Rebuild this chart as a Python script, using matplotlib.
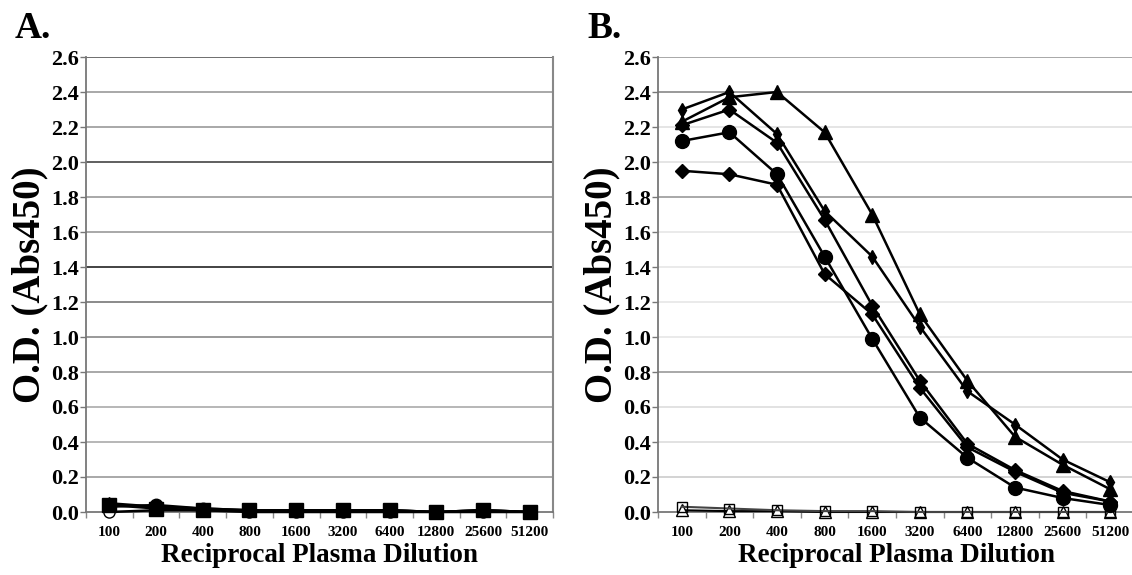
import matplotlib
matplotlib.use("Agg")
import matplotlib.pyplot as plt
import numpy as np

plt.rcParams['font.family'] = ['Liberation Serif', 'DejaVu Serif']
plt.rcParams['font.weight'] = 'bold'

dilutions = ["100", "200", "400", "800", "1600", "3200", "6400", "12800", "25600", "51200"]
yticks = [0.0, 0.2, 0.4, 0.6, 0.8, 1.0, 1.2, 1.4, 1.6, 1.8, 2.0, 2.2, 2.4, 2.6]

# Panel A (all near zero)
a_square = [0.04, 0.02, 0.01, 0.01, 0.01, 0.01, 0.01, 0.00, 0.01, 0.00]
a_circle = [0.03, 0.04, 0.02, 0.01, 0.01, 0.01, 0.01, 0.00, 0.01, 0.00]
a_triangle = [0.05, 0.03, 0.02, 0.01, 0.01, 0.01, 0.01, 0.00, 0.01, 0.00]
a_open_circle = [0.00, 0.01, 0.01, 0.00, 0.00, 0.00, 0.00, 0.00, 0.00, 0.00]

# Panel B
b_triangle = [2.23, 2.37, 2.40, 2.17, 1.70, 1.13, 0.75, 0.43, 0.27, 0.13]
b_small_diamond = [2.30, 2.40, 2.16, 1.72, 1.46, 1.06, 0.69, 0.50, 0.30, 0.17]
b_diamond1 = [2.21, 2.30, 2.11, 1.67, 1.18, 0.75, 0.39, 0.24, 0.12, 0.06]
b_circle = [2.12, 2.17, 1.93, 1.46, 0.99, 0.54, 0.31, 0.14, 0.08, 0.04]
b_diamond2 = [1.95, 1.93, 1.87, 1.36, 1.13, 0.71, 0.37, 0.23, 0.11, 0.06]
b_open_square = [0.03, 0.02, 0.01, 0.005, 0.005, 0.0, 0.0, 0.0, 0.0, 0.0]
b_open_triangle = [0.01, 0.005, 0.005, 0.0, 0.0, 0.0, 0.0, 0.0, 0.0, 0.0]

fig = plt.figure(figsize=(11.32, 5.75), dpi=100)
W, H = 1132, 575

def make_ax(left, right, grid_colors, show_right=True):
    ax = fig.add_axes([left / W, 1 - 512 / H, (right - left) / W, (512 - 57) / H])
    x = np.arange(len(dilutions))
    ax.set_xlim(-0.5, len(dilutions) - 0.5)
    ax.set_ylim(0, 2.6)
    ax.set_yticks(yticks)
    ax.set_yticklabels([f"{v:.1f}" for v in yticks], fontsize=16, fontweight='bold')
    ax.set_xticks(x)
    ax.set_xticklabels(dilutions, fontsize=11, fontweight='bold')
    ax.set_xticks(np.arange(len(dilutions) + 1) - 0.5, minor=True)
    ax.tick_params(axis='x', which='major', length=0, pad=10)
    ax.tick_params(axis='x', which='minor', length=4, color='#888888', width=1)
    ax.tick_params(axis='y', length=4, color='#777777', width=1, pad=1)
    for v, c in zip(yticks[1:], grid_colors):
        ax.axhline(v, color=c, lw=1.2, zorder=0)
    for s in ['left', 'bottom']:
        ax.spines[s].set_color('#777777')
        ax.spines[s].set_linewidth(1.3)
    ax.spines['top'].set_visible(False)
    ax.spines['right'].set_visible(show_right)
    ax.spines['right'].set_color('#888888')
    ax.spines['right'].set_linewidth(1.5)
    ax.set_xlabel("Reciprocal Plasma Dilution", fontsize=19.5, fontweight='bold', labelpad=3)
    ax.set_ylabel("O.D. (Abs450)", fontsize=28, fontweight='bold', labelpad=2)
    return ax, x

grid_a = ['#999999', '#aaaaaa', '#aaaaaa', '#999999', '#888888', '#777777', '#222222',
          '#999999', '#999999', '#444444', '#999999', '#999999', '#555555']
grid_b = ['#cccccc', '#dddddd', '#dddddd', '#999999', '#e6e6e6', '#e6e6e6', '#e6e6e6',
          '#e6e6e6', '#999999', '#e0e0e0', '#e0e0e0', '#888888', '#999999']

axA, x = make_ax(86, 553, grid_a)
axB, _ = make_ax(658, 1134, grid_b, show_right=False)

lw = 1.8
kw = dict(color='black', lw=lw, markeredgecolor='black', clip_on=False, zorder=3)
axA.plot(x, a_triangle, marker='^', ms=8, mfc='black', **kw)
axA.plot(x, a_circle, marker='o', ms=9, mfc='black', **kw)
axA.plot(x, a_open_circle, marker='o', ms=8, mfc='white', **kw)
axA.plot(x, a_square, marker='s', ms=10, mfc='black', **kw)

axB.plot(x, b_open_triangle, marker='^', ms=8, mfc='white', color='black', lw=1.5,
         markeredgecolor='black', clip_on=False, zorder=3)
axB.plot(x, b_open_square, marker='s', ms=7, mfc='none', color='#444444', lw=1.5,
         markeredgecolor='black', clip_on=False, zorder=3)
axB.plot(x, b_triangle, marker='^', ms=10, mfc='black', **kw)
axB.plot(x, b_small_diamond, marker='d', ms=7, mfc='black', **kw)
axB.plot(x, b_diamond1, marker='D', ms=7, mfc='black', **kw)
axB.plot(x, b_circle, marker='o', ms=10, mfc='black', **kw)
axB.plot(x, b_diamond2, marker='D', ms=7, mfc='black', **kw)

fig.text(15 / W, 1 - 38 / H, "A.", fontsize=27, fontweight='bold')
fig.text(587 / W, 1 - 38 / H, "B.", fontsize=27, fontweight='bold')

fig.savefig("out.png", dpi=100)
